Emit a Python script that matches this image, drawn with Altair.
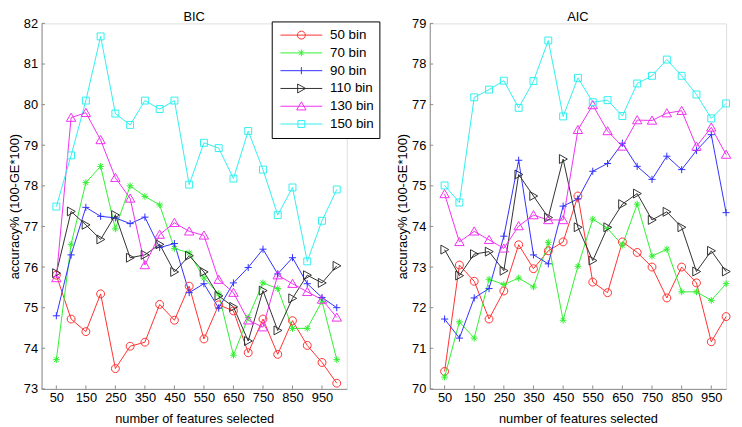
import altair as alt
import pandas as pd

features = [50, 100, 150, 200, 250, 300, 350, 400, 450, 500,
            550, 600, 650, 700, 750, 800, 850, 900, 950, 1000]
x_ticks = [50, 150, 250, 350, 450, 550, 650, 750, 850, 950]
bic_y_ticks = [73, 74, 75, 76, 77, 78, 79, 80, 81, 82]
aic_y_ticks = [70, 71, 72, 73, 74, 75, 76, 77, 78, 79]

series = ["50 bin", "70 bin", "90 bin", "110 bin", "130 bin", "150 bin"]

bic_50 = [75.80, 74.72, 74.41, 75.34, 73.50, 74.05, 74.15, 75.08, 74.69, 75.53,
          74.23, 75.07, 74.92, 73.89, 74.72, 73.85, 74.68, 74.07, 73.65, 73.14]
bic_70 = [73.72, 76.56, 78.08, 78.48, 76.94, 78.00, 77.74, 77.53, 76.46, 76.35,
          75.73, 75.34, 73.83, 74.76, 75.61, 75.47, 74.49, 74.49, 75.16, 73.72]
bic_90 = [74.80, 76.30, 77.47, 77.25, 77.21, 77.07, 77.23, 76.48, 76.58, 75.37,
          75.59, 74.99, 75.61, 75.99, 76.44, 75.83, 76.23, 75.59, 75.25, 75.00]
bic_110 = [75.85, 77.37, 77.04, 76.68, 77.28, 76.23, 76.30, 76.56, 75.88, 76.28,
           75.88, 75.29, 75.02, 74.18, 75.42, 74.44, 75.23, 75.80, 75.61, 76.03]
bic_130 = [75.73, 79.68, 79.80, 79.13, 78.20, 77.69, 76.05, 76.80, 77.09, 76.88,
           76.78, 75.69, 75.37, 74.69, 74.52, 75.80, 75.59, 75.39, 75.20, 74.76]
bic_150 = [77.49, 78.75, 80.10, 81.68, 79.78, 79.50, 80.10, 79.89, 80.10, 78.03,
           79.06, 78.93, 78.18, 79.35, 78.40, 77.28, 77.96, 76.14, 77.14, 77.91]

aic_50 = [70.43, 73.05, 72.65, 71.72, 72.41, 73.55, 72.96, 73.40, 73.62, 74.75,
          72.63, 72.37, 73.62, 73.36, 73.00, 72.24, 73.00, 72.61, 71.16, 71.78]
aic_70 = [70.29, 71.65, 71.25, 72.70, 72.57, 72.73, 72.51, 73.61, 71.69, 73.02,
          74.18, 73.95, 73.54, 74.55, 73.27, 73.44, 72.39, 72.39, 72.18, 72.59]
aic_90 = [71.72, 71.25, 72.24, 72.47, 73.76, 75.63, 73.30, 73.08, 74.50, 74.68,
          75.36, 75.55, 76.05, 75.48, 75.16, 75.73, 75.40, 75.87, 76.26, 74.34]
aic_110 = [73.43, 72.79, 73.32, 73.38, 72.91, 75.28, 74.75, 74.22, 75.66, 73.98,
           73.16, 73.98, 74.55, 74.81, 74.16, 74.36, 73.98, 72.89, 73.40, 72.89]
aic_130 = [74.80, 73.62, 73.88, 73.67, 73.46, 74.01, 74.28, 74.16, 74.16, 76.38,
           76.99, 76.35, 75.97, 76.62, 76.61, 76.79, 76.85, 75.97, 76.44, 75.77]
aic_150 = [75.01, 74.59, 77.18, 77.37, 77.59, 76.92, 77.58, 78.58, 76.71, 77.66,
           77.06, 77.11, 76.72, 77.52, 77.71, 78.11, 77.71, 77.25, 76.66, 77.03]

colors = ["#ff3030", "#30f030", "#3030ff", "#303030", "#f030f0", "#30f0f0"]

# marker outlines (circle, asterisk, plus, right triangle, up triangle, square)
marker_paths = [
    "M0.8,0A0.8,0.8 0 1,1 -0.8,0A0.8,0.8 0 1,1 0.8,0Z",
    "M-0.68,0L0.68,0M0,-0.68L0,0.68M-0.48,-0.48L0.48,0.48M-0.48,0.48L0.48,-0.48",
    "M-0.72,0L0.72,0M0,-0.72L0,0.72",
    "M-0.75,-0.9L0.85,0L-0.75,0.9Z",
    "M-0.95,0.75L0,-0.9L0.95,0.75Z",
    "M-0.7,-0.7L0.7,-0.7L0.7,0.7L-0.7,0.7Z",
]
# legend symbols: line sample with marker in the middle
legend_paths = [
    "M-1,0L1,0M0.19,0A0.19,0.19 0 1,1 -0.19,0A0.19,0.19 0 1,1 0.19,0Z",
    "M-1,0L1,0M0,-0.16L0,0.16M-0.113,-0.113L0.113,0.113M-0.113,0.113L0.113,-0.113",
    "M-1,0L1,0M0,-0.17L0,0.17",
    "M-1,0L1,0M-0.177,-0.213L0.201,0L-0.177,0.213Z",
    "M-1,0L1,0M-0.224,0.177L0,-0.213L0.224,0.177Z",
    "M-1,0L1,0M-0.165,-0.165L0.165,-0.165L0.165,0.165L-0.165,0.165Z",
]

FONT = "Liberation Sans"
GRAY = "#8c8c8c"
H = 370


def long_df(vals_list):
    rows = []
    for s, vals in zip(series, vals_list):
        for f, v in zip(features, vals):
            rows.append({"features": f, "acc": v, "series": s})
    return pd.DataFrame(rows)


def panel(df, title, xmax, width, ymin, ymax, y_ticks, with_legend):
    xs = alt.Scale(domain=[0, xmax], nice=False, zero=False)
    ys = alt.Scale(domain=[ymin, ymax], nice=False, zero=False)
    xax = alt.Axis(values=x_ticks, title="number of features selected", grid=False,
                   ticks=False, tickSize=0, domainColor=GRAY, labelFontSize=13,
                   titleFontSize=13, labelFont=FONT, titleFont=FONT,
                   labelPadding=3, titlePadding=8, titleFontWeight="normal",
                   labelColor="black", titleColor="black", labelFlush=False)
    yax = alt.Axis(values=y_ticks, title="accuracy% (100-GE*100)", grid=False,
                   ticks=False, tickSize=0, domainColor=GRAY, labelFontSize=13,
                   titleFontSize=13, labelFont=FONT, titleFont=FONT,
                   labelPadding=4, titlePadding=2, titleFontWeight="normal",
                   labelColor="black", titleColor="black", format="d")
    X = alt.X("features:Q", scale=xs, axis=xax)
    Y = alt.Y("acc:Q", scale=ys, axis=yax)
    cscale = alt.Scale(domain=series, range=colors)

    ytick = alt.Chart(pd.DataFrame({"acc": y_ticks})).mark_rule(
        color=GRAY, strokeWidth=1).encode(y=Y, x=alt.value(0), x2=alt.value(3.5))
    xtick = alt.Chart(pd.DataFrame({"features": x_ticks})).mark_rule(
        color=GRAY, strokeWidth=1).encode(x=X, y=alt.value(H), y2=alt.value(H - 3.5))

    lines = alt.Chart(df).mark_line(strokeWidth=1).encode(
        x=X, y=Y,
        color=alt.Color("series:N", scale=cscale, legend=None),
    )
    points = alt.Chart(df).mark_point(filled=False, size=100, strokeWidth=1, opacity=1).encode(
        x=X, y=Y,
        color=alt.Color("series:N", scale=cscale, legend=None),
        shape=alt.Shape("series:N", scale=alt.Scale(domain=series, range=marker_paths), legend=None),
    )
    layers = [ytick, xtick, lines, points]
    if with_legend:
        leg = alt.Legend(title=None, orient="none", legendX=233, legendY=-2,
                         symbolSize=1789, symbolStrokeWidth=1, clipHeight=17.7,
                         rowPadding=0, padding=5, strokeColor="black", fillColor="white",
                         labelFontSize=13.5, labelFont=FONT, labelColor="black",
                         symbolOffset=3, labelOffset=7, cornerRadius=0,
                         symbolOpacity=1, symbolFillColor="transparent")
        legend_layer = alt.Chart(pd.DataFrame({"series": series})).mark_point(
            filled=False, opacity=0, size=1789, strokeWidth=1).encode(
            color=alt.Color("series:N", scale=cscale, legend=leg),
            shape=alt.Shape("series:N", scale=alt.Scale(domain=series, range=legend_paths), legend=leg),
        )
        layers.append(legend_layer)
    return alt.layer(*layers).resolve_scale(
        color="independent", shape="independent"
    ).properties(
        width=width, height=H,
        title=alt.TitleParams(title, fontSize=13, fontWeight="normal", font=FONT,
                              offset=-7, anchor="middle", color="black"),
    )


left = panel(long_df([bic_50, bic_70, bic_90, bic_110, bic_130, bic_150]),
             "BIC", 1034, 309, 73, 82, bic_y_ticks, True)
right = panel(long_df([aic_50, aic_70, aic_90, aic_110, aic_130, aic_150]),
              "AIC", 1000, 300, 70, 79, aic_y_ticks, False)

chart = alt.hconcat(left, right, spacing=84, bounds="flush",
                    padding={"left": 0, "top": 0, "right": 0, "bottom": 0}).resolve_scale(
    color="independent", shape="independent"
).configure_view(stroke=None).configure(font=FONT, background="white")

chart.save("out.html", embed_options={"renderer": "svg", "actions": False})
